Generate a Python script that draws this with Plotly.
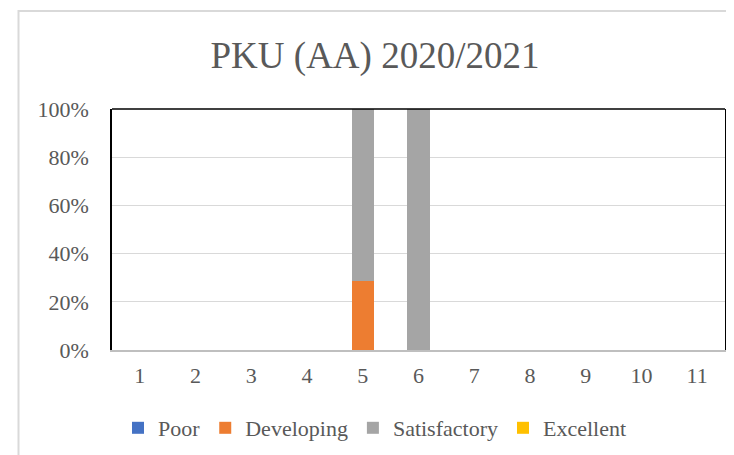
import plotly.graph_objects as go

categories = ["1", "2", "3", "4", "5", "6", "7", "8", "9", "10", "11"]
poor = [0, 0, 0, 0, 0, 0, 0, 0, 0, 0, 0]
developing = [0, 0, 0, 0, 0.286, 0, 0, 0, 0, 0, 0]
satisfactory = [0, 0, 0, 0, 0.714, 1.0, 0, 0, 0, 0, 0]
excellent = [0, 0, 0, 0, 0, 0, 0, 0, 0, 0, 0]

series = [
    ("Poor", poor, "#4472C4"),
    ("Developing", developing, "#ED7D31"),
    ("Satisfactory", satisfactory, "#A5A5A5"),
    ("Excellent", excellent, "#FFC000"),
]

serif = "Liberation Serif, Times New Roman, DejaVu Serif, serif"
txt = "#595959"
tick_font = dict(family=serif, size=22, color=txt)

fig = go.Figure()
for name, vals, col in series:
    fig.add_trace(go.Bar(x=categories, y=vals, name=name, marker=dict(color=col, line=dict(width=0))))

fig.update_layout(
    barmode="stack",
    bargap=0.6,
    width=734, height=455,
    margin=dict(l=104, r=17, t=101, b=113),
    paper_bgcolor="white", plot_bgcolor="white",
    font=dict(family=serif, size=22, color=txt),
    title=dict(text="PKU (AA) 2020/2021", font=dict(size=37, color=txt, family=serif),
               x=0.5, xref="container", xanchor="center",
               y=1 - 47 / 455, yref="container", yanchor="middle"),
    legend=dict(orientation="h", xref="container", x=0.5, xanchor="center",
                yref="container", y=1 - 420 / 455, yanchor="middle",
                font=tick_font, traceorder="normal"),
    xaxis=dict(showgrid=False, showline=True, linecolor="#bfbfbf", linewidth=1.5,
               ticks="", ticklabelstandoff=5, tickfont=tick_font),
    yaxis=dict(range=[0, 1], tickformat=".0%", dtick=0.2, showgrid=True,
               gridcolor="#d9d9d9", gridwidth=1.3, zeroline=False,
               showline=True, linecolor="black", linewidth=1.5, mirror=True,
               ticks="", ticklabelstandoff=17, tickfont=tick_font),
    shapes=[
        dict(type="line", xref="x domain", yref="y domain", x0=0, x1=1, y0=1, y1=1,
             line=dict(color="black", width=1.5)),
        dict(type="rect", xref="paper", yref="paper",
             x0=(10.5 - 104) / 613, x1=(760 - 104) / 613,
             y0=(342 - 480) / 240, y1=(342 - 4.5) / 240,
             line=dict(color="#d9d9d9", width=2), layer="below"),
    ],
)

fig.write_html("out.html")
